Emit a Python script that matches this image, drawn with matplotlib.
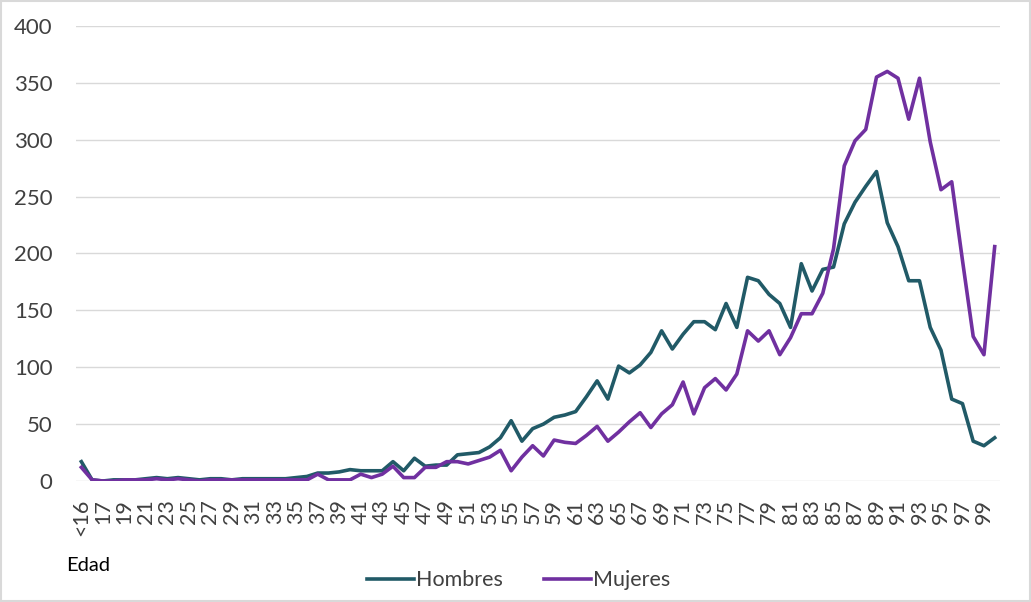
import matplotlib.pyplot as plt
from matplotlib.patches import Rectangle

plt.rcParams['font.family'] = ['Lato', 'DejaVu Sans']

# age groups: <16, 16 ... 100
edades = ['<16'] + [str(a) for a in range(16, 101)]

hombres = [17, 1, 0, 1, 1, 1, 2, 3, 2, 3,
           2, 1, 2, 2, 1, 2, 2, 2, 2, 2,
           3, 4, 7, 7, 8, 10, 9, 9, 9, 17,
           9, 20, 13, 14, 14, 23, 24, 25, 30, 38,
           53, 35, 46, 50, 56, 58, 61, 74, 88, 72,
           101, 95, 102, 113, 132, 116, 129, 140, 140, 133,
           156, 135, 179, 176, 164, 156, 135, 191, 167, 186,
           188, 226, 245, 259, 272, 227, 206, 176, 176, 135,
           115, 72, 68, 35, 31, 38]

mujeres = [12, 1, 0, 0, 1, 1, 1, 2, 1, 2,
           1, 0, 1, 1, 1, 1, 1, 1, 1, 1,
           1, 1, 6, 1, 1, 1, 6, 3, 6, 13,
           3, 3, 12, 12, 17, 17, 15, 18, 21, 27,
           9, 21, 31, 22, 36, 34, 33, 40, 48, 35,
           43, 52, 60, 47, 59, 67, 87, 59, 82, 90,
           80, 94, 132, 123, 132, 111, 126, 147, 147, 165,
           204, 277, 299, 309, 355, 360, 354, 318, 354, 298,
           256, 263, 194, 127, 111, 206]

fig = plt.figure(figsize=(10.31, 6.02), dpi=100)
ax = fig.add_axes([0.0737, 0.201, 0.8963, 0.756])

x = range(len(edades))
ax.plot(x, hombres, color='#215A67', lw=2.6, label='Hombres')
ax.plot(x, mujeres, color='#7030A0', lw=2.6, label='Mujeres')

ax.set_xlim(-0.5, len(edades) - 0.5)
ax.set_ylim(0, 400)
ax.set_yticks(range(0, 401, 50))
ax.set_xticks(list(x)[::2])
ax.set_xticklabels(edades[::2], rotation=90, fontsize=15.5, color='#404040')
ax.tick_params(axis='y', labelsize=16, colors='#404040', length=0, pad=17)
ax.tick_params(axis='x', length=0, pad=13)
ax.grid(axis='y', color='#D9D9D9', lw=1)
ax.set_axisbelow(True)
for s in ax.spines.values():
    s.set_visible(False)

fig.text(0.064, 0.06, 'Edad', fontsize=14.5, va='center', ha='left')
fig.legend(loc='center', bbox_to_anchor=(0.503, 0.036), ncol=2, frameon=False,
           fontsize=15.5, handlelength=2.2, handletextpad=0.1, columnspacing=1.9,
           labelcolor='#404040')

# light grey chart border
fig.patches.append(Rectangle((0.001, 0.001), 0.998, 0.997, transform=fig.transFigure,
                             fill=False, edgecolor='#D9D9D9', lw=1.5))

fig.savefig('out.png', dpi=100)
